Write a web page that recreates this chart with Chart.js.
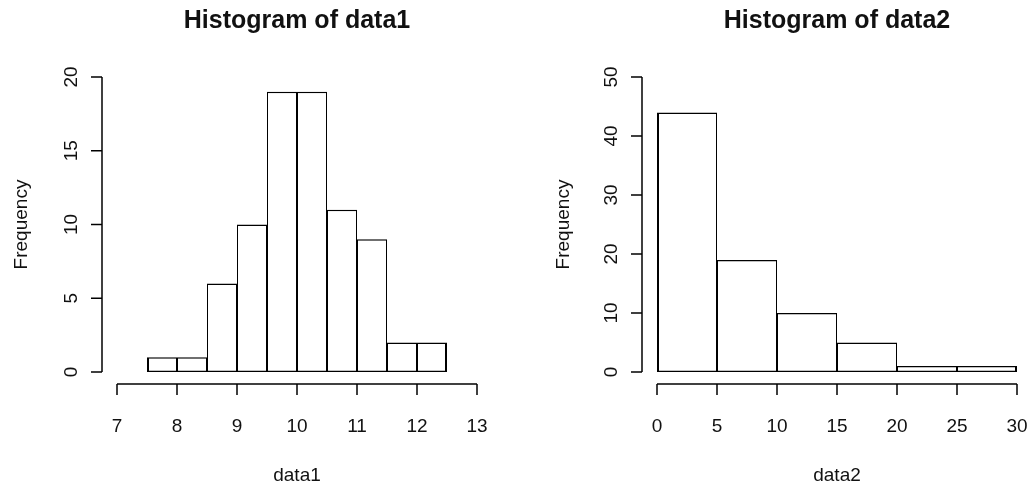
<!DOCTYPE html>
<html><head><meta charset="utf-8">
<script src="https://cdn.jsdelivr.net/npm/chart.js@4.4.1/dist/chart.umd.min.js"></script>
<style>
html,body{margin:0;padding:0;background:#fff;}
#wrap{position:relative;width:1034px;height:486px;overflow:hidden;}
.box{position:absolute;top:0;width:517px;height:486px;}
</style></head><body>
<div id="wrap">
  <div class="box" style="left:0"><canvas id="c1" width="517" height="486"></canvas></div>
  <div class="box" style="left:517px"><canvas id="c2" width="517" height="486"></canvas></div>
</div>
<script>
// ---- data ----
const title1 = 'Histogram of data1';
const title2 = 'Histogram of data2';
const xLabel1 = 'data1';
const xLabel2 = 'data2';
const yLabel = 'Frequency';

const breaks1 = [7.5, 8, 8.5, 9, 9.5, 10, 10.5, 11, 11.5, 12, 12.5];
const counts1 = [1, 1, 6, 10, 19, 19, 11, 9, 2, 2];
const xTicks1 = [7, 8, 9, 10, 11, 12, 13];
const yTicks1 = [0, 5, 10, 15, 20];

const breaks2 = [0, 5, 10, 15, 20, 25, 30];
const counts2 = [44, 19, 10, 5, 1, 1];
const xTicks2 = [0, 5, 10, 15, 20, 25, 30];
const yTicks2 = [0, 10, 20, 30, 40, 50];

// ---- helpers ----
const FONT = "'Liberation Sans', Arial, sans-serif";

function binPoints(breaks, counts) {
  return counts.map((c, i) => ({ x: (breaks[i] + breaks[i + 1]) / 2, y: c }));
}

function rAxesPlugin(cfg) {
  return {
    id: 'rAxes',
    afterDraw(chart) {
      const ctx = chart.ctx, xs = chart.scales.x, ys = chart.scales.y;
      const area = chart.chartArea;
      ctx.save();
      ctx.strokeStyle = '#000';
      ctx.fillStyle = '#111';
      ctx.lineWidth = 1.5;
      const line = (a, b, c, d) => { ctx.beginPath(); ctx.moveTo(a, b); ctx.lineTo(c, d); ctx.stroke(); };

      // x axis (detached, R style)
      const xa = cfg.xAxisY;
      line(xs.getPixelForValue(cfg.xTicks[0]), xa, xs.getPixelForValue(cfg.xTicks[cfg.xTicks.length - 1]), xa);
      ctx.font = '19px ' + FONT;
      ctx.textAlign = 'center';
      ctx.textBaseline = 'alphabetic';
      cfg.xTicks.forEach(t => {
        const px = xs.getPixelForValue(t);
        line(px, xa, px, xa + 11);
        ctx.fillText(String(t), px, cfg.xTickBase);
      });

      // y axis
      const ya = cfg.yAxisX;
      line(ya, ys.getPixelForValue(cfg.yTicks[0]), ya, ys.getPixelForValue(cfg.yTicks[cfg.yTicks.length - 1]));
      cfg.yTicks.forEach(t => {
        const py = ys.getPixelForValue(t);
        line(ya, py, ya - 11, py);
        ctx.save();
        ctx.translate(cfg.yTickBase, py);
        ctx.rotate(-Math.PI / 2);
        ctx.fillText(String(t), 0, 0);
        ctx.restore();
      });

      // axis titles
      const cx = (xs.getPixelForValue(cfg.xTicks[0]) + xs.getPixelForValue(cfg.xTicks[cfg.xTicks.length - 1])) / 2;
      const cy = (area.top + area.bottom) / 2;
      ctx.fillText(cfg.xLabel, cx, cfg.xLabelBase);
      ctx.save();
      ctx.translate(cfg.yLabelBase, cy);
      ctx.rotate(-Math.PI / 2);
      ctx.fillText(cfg.yLabel, 0, 0);
      ctx.restore();

      // main title
      ctx.font = 'bold 25px ' + FONT;
      ctx.fillText(cfg.title, cx, cfg.titleBase);
      ctx.restore();
    }
  };
}

function makeHist(canvasId, breaks, counts, xTicks, yTicks, pad, axisCfg) {
  const last = counts.length - 1;
  return new Chart(document.getElementById(canvasId), {
    type: 'bar',
    data: {
      datasets: [{
        data: binPoints(breaks, counts),
        backgroundColor: '#ffffff',
        borderColor: '#000000',
        borderSkipped: false,
        inflateAmount: 0,
        borderWidth: (c) => ({ top: 1.5, bottom: 1.5, left: c.dataIndex === 0 ? 2 : 1, right: c.dataIndex === last ? 2 : 1 }),
        barPercentage: 1,
        categoryPercentage: 1
      }]
    },
    options: {
      responsive: false,
      animation: false,
      devicePixelRatio: 1,
      layout: { padding: pad },
      plugins: { legend: { display: false }, tooltip: { enabled: false }, title: { display: false } },
      scales: {
        x: { type: 'linear', display: false, offset: false, min: xTicks[0], max: xTicks[xTicks.length - 1] },
        y: { type: 'linear', display: false, min: yTicks[0], max: yTicks[yTicks.length - 1] }
      }
    },
    plugins: [rAxesPlugin(Object.assign({ xTicks, yTicks }, axisCfg))]
  });
}

makeHist('c1', breaks1, counts1, xTicks1, yTicks1,
  { left: 117, right: 40, top: 77, bottom: 114 },
  { title: title1, xLabel: xLabel1, yLabel: yLabel, xAxisY: 384, yAxisX: 102,
    xTickBase: 432, xLabelBase: 481, yTickBase: 77, yLabelBase: 27, titleBase: 28 });

makeHist('c2', breaks2, counts2, xTicks2, yTicks2,
  { left: 140, right: 17, top: 77, bottom: 114 },
  { title: title2, xLabel: xLabel2, yLabel: yLabel, xAxisY: 384, yAxisX: 125,
    xTickBase: 432, xLabelBase: 481, yTickBase: 100, yLabelBase: 52, titleBase: 28 });
</script>
</body></html>
